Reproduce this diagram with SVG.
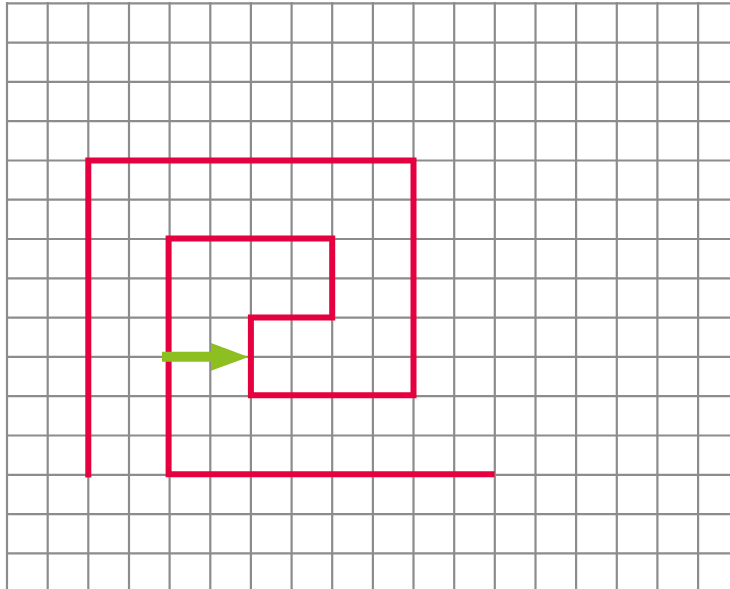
<svg xmlns="http://www.w3.org/2000/svg" width="730" height="589" viewBox="0 0 730 589">
<style>
.grid line{stroke:#8c8c8c;stroke-width:2.2}
.spiral{fill:none;stroke:#e5003f;stroke-width:6;stroke-linejoin:miter}
.arrow{fill:#8cbf1f}
</style>
<rect width="730" height="589" fill="#ffffff"/>
<g id="grid" class="grid">
<line x1="7" y1="2" x2="7" y2="589"/>
<line x1="47.7" y1="2" x2="47.7" y2="589"/>
<line x1="88.3" y1="2" x2="88.3" y2="589"/>
<line x1="129" y1="2" x2="129" y2="589"/>
<line x1="169.6" y1="2" x2="169.6" y2="589"/>
<line x1="210.3" y1="2" x2="210.3" y2="589"/>
<line x1="250.9" y1="2" x2="250.9" y2="589"/>
<line x1="291.6" y1="2" x2="291.6" y2="589"/>
<line x1="332.2" y1="2" x2="332.2" y2="589"/>
<line x1="372.9" y1="2" x2="372.9" y2="589"/>
<line x1="413.5" y1="2" x2="413.5" y2="589"/>
<line x1="454.2" y1="2" x2="454.2" y2="589"/>
<line x1="494.8" y1="2" x2="494.8" y2="589"/>
<line x1="535.5" y1="2" x2="535.5" y2="589"/>
<line x1="576.1" y1="2" x2="576.1" y2="589"/>
<line x1="616.8" y1="2" x2="616.8" y2="589"/>
<line x1="657.4" y1="2" x2="657.4" y2="589"/>
<line x1="698.1" y1="2" x2="698.1" y2="589"/>
<line x1="6" y1="3.3" x2="730" y2="3.3"/>
<line x1="6" y1="42.6" x2="730" y2="42.6"/>
<line x1="6" y1="81.9" x2="730" y2="81.9"/>
<line x1="6" y1="121.2" x2="730" y2="121.2"/>
<line x1="6" y1="160.5" x2="730" y2="160.5"/>
<line x1="6" y1="199.7" x2="730" y2="199.7"/>
<line x1="6" y1="239" x2="730" y2="239"/>
<line x1="6" y1="278.3" x2="730" y2="278.3"/>
<line x1="6" y1="317.6" x2="730" y2="317.6"/>
<line x1="6" y1="356.9" x2="730" y2="356.9"/>
<line x1="6" y1="396.2" x2="730" y2="396.2"/>
<line x1="6" y1="435.5" x2="730" y2="435.5"/>
<line x1="6" y1="474.8" x2="730" y2="474.8"/>
<line x1="6" y1="514.1" x2="730" y2="514.1"/>
<line x1="6" y1="553.4" x2="730" y2="553.4"/>
</g>
<g id="connectors">
<path id="spiral" class="spiral" d="M88.3 477.5 V160.5 H413.5 V395.2 H250.9 V317.6 H332.2 V238.5 H168.6 V474.3 H494.5"/>
<path id="arrow" class="arrow" d="M162 351.8 H211 V343 L248.5 357 L211 370.8 V361.8 H162 Z"/>
</g>
</svg>
